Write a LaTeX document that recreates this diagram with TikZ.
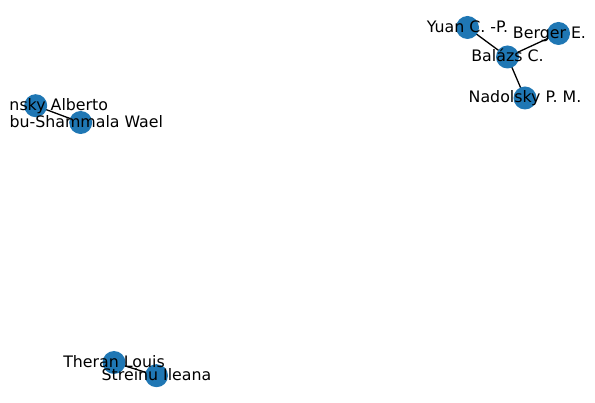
\documentclass[tikz,border=0pt]{standalone}
\usepackage{fontspec}
\setmainfont{DejaVu Sans}
\definecolor{nodeblue}{HTML}{1F77B4}
\begin{document}
\begin{tikzpicture}[x=1pt,y=-1pt,
  vert/.style={circle,fill=nodeblue,draw=none,minimum size=23pt,inner sep=0pt},
  lab/.style={inner sep=0pt,text height=13pt,text depth=3pt,font=\fontsize{15.8}{18}\selectfont},
  edge/.style={draw=black,line width=1.3pt}]
\useasboundingbox (0,0) rectangle (595,403);
% node positions
\coordinate (pYuan) at (467.5,27.5);
\coordinate (pBerger) at (558.5,33.5);
\coordinate (pBalazs) at (507.5,57);
\coordinate (pNadolsky) at (525,98);
\coordinate (pAlberto) at (35.7,105.7);
\coordinate (pWael) at (80.7,122.5);
\coordinate (pTheran) at (114,362.5);
\coordinate (pStreinu) at (156.5,375.7);
% edges
\draw[edge] (pYuan) -- (pBalazs);
\draw[edge] (pBerger) -- (pBalazs);
\draw[edge] (pBalazs) -- (pNadolsky);
\draw[edge] (pAlberto) -- (pWael);
\draw[edge] (pTheran) -- (pStreinu);
% circles
\foreach \p in {pYuan,pBerger,pBalazs,pNadolsky,pAlberto,pWael,pTheran,pStreinu}
  \node[vert] (c\p) at (\p) {};
% labels
\node[lab] (lYuan) at (pYuan) {Yuan C. -P.};
\node[lab] (lBerger) at ([xshift=-9pt]pBerger) {Berger E.};
\node[lab] (lBalazs) at (pBalazs) {Balázs C.};
\node[lab] (lNadolsky) at (pNadolsky) {Nadolsky P. M.};
\node[lab,anchor=east] (lAlberto) at ([xshift=72.5pt]pAlberto) {nsky Alberto};
\node[lab,anchor=east] (lWael) at ([xshift=82.5pt]pWael) {bu-Shammala Wael};
\node[lab] (lTheran) at (pTheran) {Theran Louis};
\node[lab] (lStreinu) at (pStreinu) {Streinu Ileana};
\end{tikzpicture}
\end{document}
